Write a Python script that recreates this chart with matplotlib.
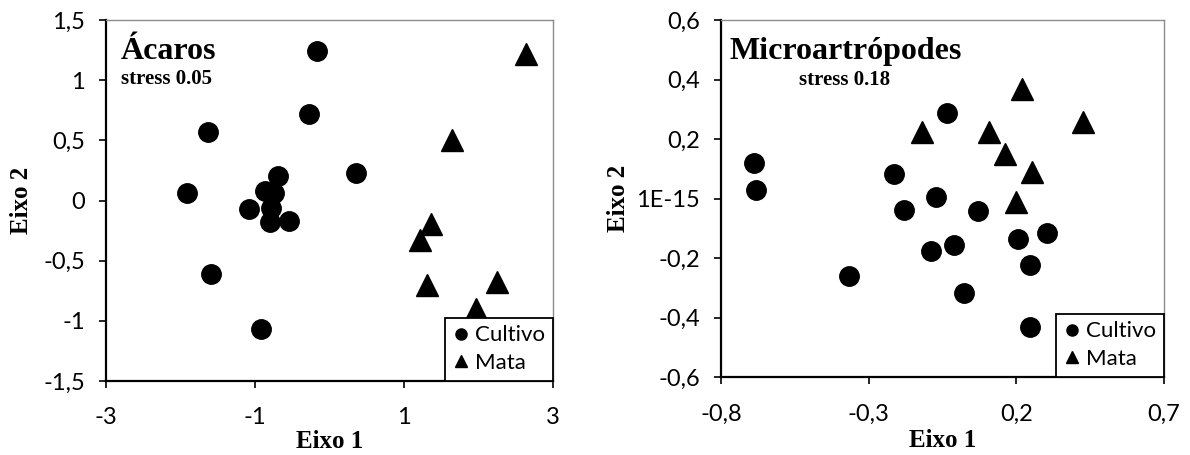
import matplotlib
matplotlib.use("Agg")
import matplotlib.pyplot as plt
from matplotlib.lines import Line2D

# Ácaros (left panel)
acaros_cultivo_x = [-0.17, -0.27, -1.63, 0.36, -0.69, -1.91, -0.87, -0.74, -0.79, -1.08, -0.80, -0.55, -1.59, -0.92]
acaros_cultivo_y = [1.24, 0.715, 0.57, 0.23, 0.20, 0.06, 0.08, 0.065, -0.065, -0.07, -0.18, -0.17, -0.61, -1.07]
acaros_mata_x = [2.64, 1.64, 1.36, 1.22, 1.31, 2.25, 1.97]
acaros_mata_y = [1.22, 0.50, -0.195, -0.33, -0.70, -0.675, -0.90]

# Microartrópodes (right panel)
micro_cultivo_x = [-0.688, -0.682, -0.214, -0.035, -0.073, -0.182, 0.071, 0.305, 0.205, -0.012, -0.090, 0.247, -0.368, 0.023, 0.245]
micro_cultivo_y = [0.12, 0.03, 0.084, 0.288, 0.006, -0.039, -0.043, -0.115, -0.137, -0.157, -0.176, -0.224, -0.261, -0.316, -0.432]
micro_mata_x = [0.219, 0.424, -0.118, 0.106, 0.162, 0.254, 0.200]
micro_mata_y = [0.367, 0.258, 0.224, 0.224, 0.151, 0.090, -0.011]

acaros_xticks = [-3, -1, 1, 3]
acaros_xlabels = ["-3", "-1", "1", "3"]
acaros_yticks = [-1.5, -1, -0.5, 0, 0.5, 1, 1.5]
acaros_ylabels = ["-1,5", "-1", "-0,5", "0", "0,5", "1", "1,5"]

micro_xticks = [-0.8, -0.3, 0.2, 0.7]
micro_xlabels = ["-0,8", "-0,3", "0,2", "0,7"]
micro_yticks = [-0.6, -0.4, -0.2, 0, 0.2, 0.4, 0.6]
micro_ylabels = ["-0,6", "-0,4", "-0,2", "1E-15", "0,2", "0,4", "0,6"]

serif = "Liberation Serif"
tickfont = "Lato"


def setup_axis(ax, xt, xl, yt, yl):
    ax.set_xlim(xt[0], xt[-1])
    ax.set_ylim(yt[0], yt[-1])
    ax.set_xticks(xt)
    ax.set_xticklabels(xl)
    ax.set_yticks(yt)
    ax.set_yticklabels(yl)
    for lab in ax.get_xticklabels() + ax.get_yticklabels():
        lab.set_fontfamily(tickfont)
        lab.set_fontsize(17)
    ax.tick_params(direction='out', length=5, width=1.2, colors='black')
    ax.tick_params(axis='y', pad=10)
    ax.tick_params(axis='x', pad=14)
    for s in ['left', 'bottom']:
        ax.spines[s].set_linewidth(1.6)
        ax.spines[s].set_color('black')
    for s in ['top', 'right']:
        ax.spines[s].set_linewidth(1.0)
        ax.spines[s].set_color('#8c8c8c')
    ax.set_xlabel("Eixo 1", fontfamily=serif, fontweight='bold', fontsize=18)
    ax.set_ylabel("Eixo 2", fontfamily=serif, fontweight='bold', fontsize=18)

    handles = [Line2D([], [], marker='o', color='k', ls='None', markersize=8),
               Line2D([], [], marker='^', color='k', ls='None', markersize=8)]
    leg = ax.legend(handles, ["Cultivo", "Mata"], loc='lower right', borderaxespad=0,
                    fancybox=False, edgecolor='black', framealpha=1,
                    handlelength=0.7, handletextpad=0.3, borderpad=0.35,
                    labelspacing=0.35, prop={'family': tickfont, 'size': 16})
    leg.get_frame().set_linewidth(1.3)


fig = plt.figure(figsize=(11.9, 4.55), dpi=100)

ax1 = fig.add_axes([0.0891, 0.1626, 0.3756, 0.7934])
ax1.plot(acaros_cultivo_x, acaros_cultivo_y, 'o', color='black', markersize=14)
ax1.plot(acaros_mata_x, acaros_mata_y, '^', color='black', markersize=16)
setup_axis(ax1, acaros_xticks, acaros_xlabels, acaros_yticks, acaros_ylabels)
ax1.xaxis.set_label_coords(0.5, -0.137)
ax1.yaxis.set_label_coords(-0.163, 0.5)
ax1.text(0.034, 0.892, "Ácaros", transform=ax1.transAxes, fontfamily=serif,
         fontweight='bold', fontsize=23, va='baseline')
ax1.text(0.034, 0.823, "stress 0.05", transform=ax1.transAxes, fontfamily=serif,
         fontweight='bold', fontsize=15, va='baseline')

ax2 = fig.add_axes([0.6059, 0.1714, 0.3723, 0.7846])
ax2.plot(micro_cultivo_x, micro_cultivo_y, 'o', color='black', markersize=14)
ax2.plot(micro_mata_x, micro_mata_y, '^', color='black', markersize=16)
setup_axis(ax2, micro_xticks, micro_xlabels, micro_yticks, micro_ylabels)
ax2.xaxis.set_label_coords(0.5, -0.145)
ax2.yaxis.set_label_coords(-0.205, 0.5)
ax2.text(0.02, 0.891, "Microartrópodes", transform=ax2.transAxes, fontfamily=serif,
         fontweight='bold', fontsize=23, va='baseline')
ax2.text(0.176, 0.818, "stress 0.18", transform=ax2.transAxes, fontfamily=serif,
         fontweight='bold', fontsize=15, va='baseline')

plt.savefig("out.png", dpi=100)
plt.close()
